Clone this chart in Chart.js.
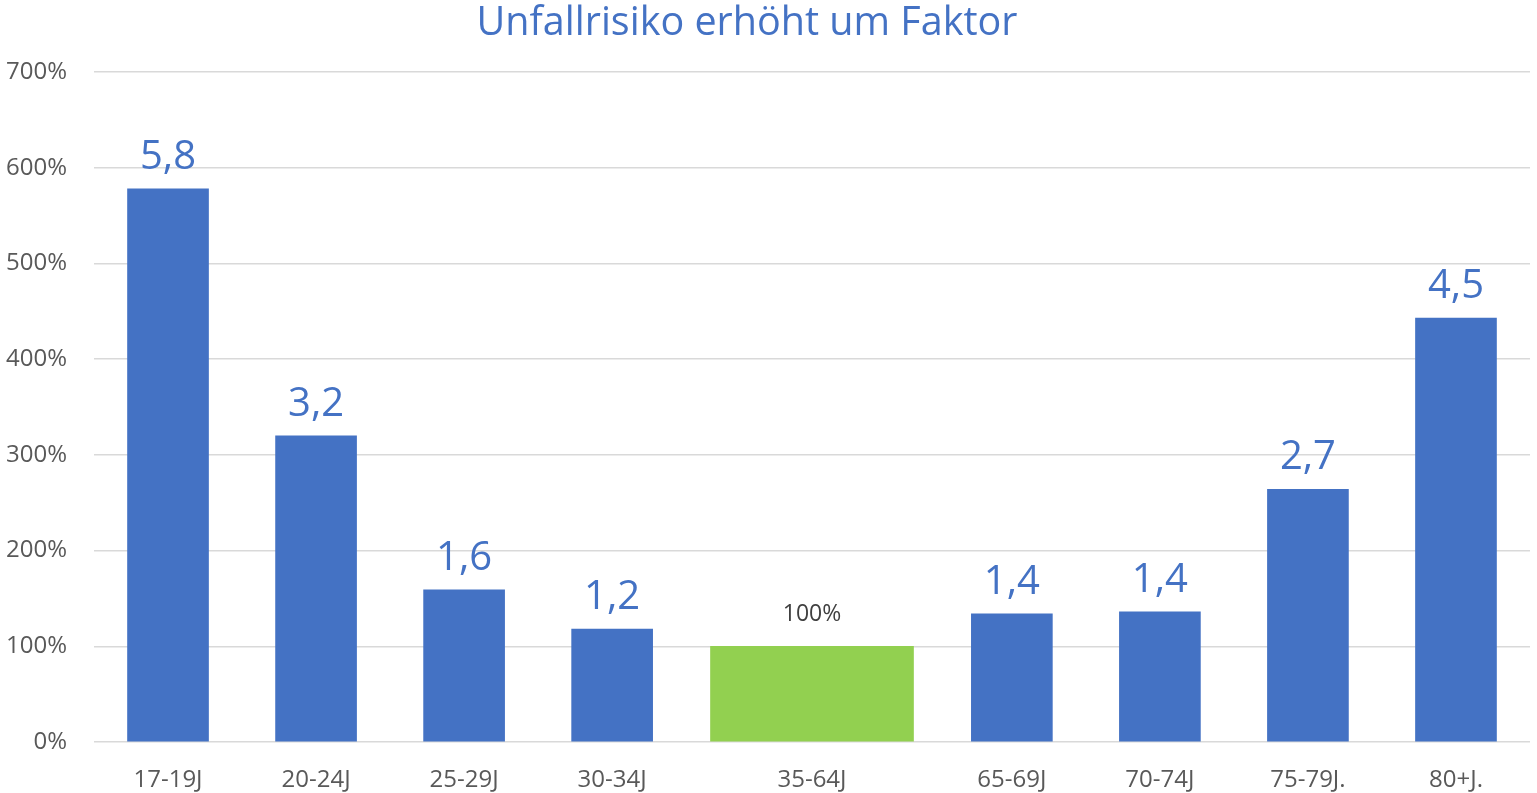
<!DOCTYPE html>
<html>
<head>
<meta charset="utf-8">
<script src="https://cdn.jsdelivr.net/npm/chart.js@4"></script>
<style>
  html, body { margin: 0; padding: 0; background: #fff; }
  #wrap { width: 1537px; height: 793px; }
</style>
</head>
<body>
<div id="wrap"><canvas id="myChart"></canvas></div>
<script>
// Data
const categories = ['17-19J', '20-24J', '25-29J', '30-34J', '35-64J', '65-69J', '70-74J', '75-79J.', '80+J.'];
const riskPercent = [578, 320, 159, 118, 100, 134, 136, 264, 443];
const factorLabels = ['5,8', '3,2', '1,6', '1,2', '100%', '1,4', '1,4', '2,7', '4,5'];
const referenceGroup = '35-64J';
const yTickValues = [0, 100, 200, 300, 400, 500, 600, 700];
const chartTitle = 'Unfallrisiko erhöht um Faktor';

// Layout: the reference group takes a wider slot on the axis
const slotSpan = categories.map(c => (c === referenceGroup ? 1.7 : 1));
const slotCenters = [];
let edge = -0.5;
slotSpan.forEach(w => { slotCenters.push(edge + w / 2); edge += w; });
const axisEnd = edge;

const BLUE = '#4472C4';
const GREEN = '#92D050';
const FONT = "'Open Sans', 'Noto Sans', sans-serif";

Chart.defaults.font.family = FONT;
Chart.defaults.color = '#595959';

const points = categories.map((c, i) => ({ x: slotCenters[i], y: riskPercent[i], name: c, label: factorLabels[i] }));

// Draws the title and the factor labels above each bar
const barLabels = {
    id: 'barLabels',
    afterDraw(chart) {
        const ctx = chart.ctx;
        ctx.save();
        ctx.font = `39.5px ${FONT}`;
        ctx.fillStyle = BLUE;
        ctx.textAlign = 'center';
        ctx.textBaseline = 'alphabetic';
        ctx.fillText(chartTitle, 747, 35);
        ctx.restore();
    },
    afterDatasetsDraw(chart) {
        const ctx = chart.ctx;
        chart.data.datasets.forEach((ds, di) => {
            const meta = chart.getDatasetMeta(di);
            meta.data.forEach((bar, i) => {
                const isRef = ds.data[i].name === referenceGroup;
                ctx.save();
                ctx.font = isRef ? `23px ${FONT}` : `40px ${FONT}`;
                ctx.fillStyle = isRef ? '#404040' : BLUE;
                ctx.textAlign = 'center';
                ctx.textBaseline = 'alphabetic';
                ctx.fillText(ds.data[i].label, bar.x, bar.y - (isRef ? 25 : 20));
                ctx.restore();
            });
        });
    }
};

const ctx = document.getElementById('myChart').getContext('2d');
const myChart = new Chart(ctx, {
    type: 'bar',
    data: {
        datasets: [{
            data: points.filter(p => p.name !== referenceGroup),
            backgroundColor: BLUE,
            barThickness: 81,
            grouped: false
        }, {
            data: points.filter(p => p.name === referenceGroup),
            backgroundColor: GREEN,
            barThickness: 203,
            grouped: false
        }]
    },
    options: {
        responsive: true,
        maintainAspectRatio: false,
        animation: false,
        layout: { padding: { left: 0, right: 7, top: 72, bottom: 0 } },
        plugins: {
            legend: { display: false },
            tooltip: { enabled: false },
            title: { display: false }
        },
        scales: {
            x: {
                type: 'linear',
                offset: false,
                min: -0.5,
                max: axisEnd,
                grid: { display: false },
                border: { display: false },
                afterBuildTicks: scale => { scale.ticks = slotCenters.map(v => ({ value: v })); },
                afterFit: scale => { scale.height = 51; },
                ticks: {
                    autoSkip: false,
                    maxRotation: 0,
                    padding: 16,
                    font: { size: 24 },
                    callback: (value, index) => categories[index]
                }
            },
            y: {
                min: 0,
                max: 700,
                afterBuildTicks: scale => { scale.ticks = yTickValues.map(v => ({ value: v })); },
                afterFit: scale => { scale.width = 94; },
                grid: { color: '#d9d9d9', lineWidth: 1.5, drawTicks: false },
                border: { display: false },
                ticks: {
                    padding: 27,
                    font: { size: 24 },
                    callback: v => v + '%'
                }
            }
        }
    },
    plugins: [barLabels]
});
</script>
</body>
</html>
